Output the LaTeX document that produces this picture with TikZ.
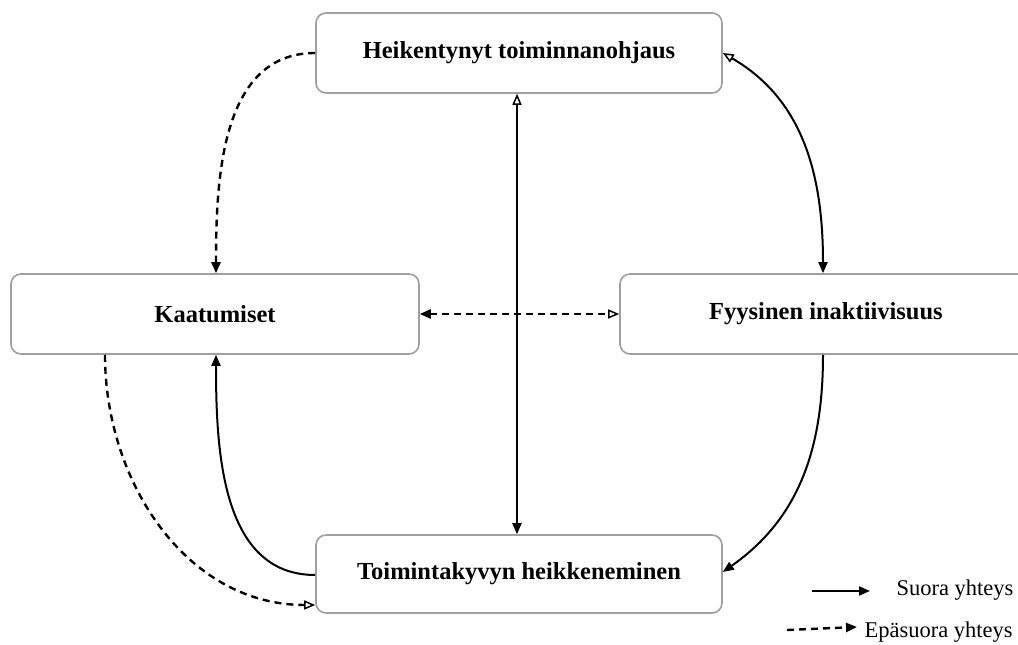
\documentclass[tikz,border=0pt]{standalone}
\usepackage{fontspec}
\setmainfont{Liberation Serif}
\usetikzlibrary{arrows.meta}

\begin{document}
\begin{tikzpicture}[x=1pt, y=1pt,
    box/.style={draw=gray!75, line width=1.6pt, rounded corners=10pt, fill=white,
        minimum height=80pt, font=\fontsize{24.5}{29}\selectfont\bfseries},
    conn/.style={line width=2pt},
    dconn/.style={line width=2.4pt, dash pattern=on 7pt off 5pt},
    full/.tip={Triangle[length=11pt, width=9pt]},
    hollow/.tip={Triangle[open, length=11pt, width=9pt, line width=1.5pt]}]
    \useasboundingbox (0,0) rectangle (1018,645);

    \node[box, minimum width=406pt] (toim) at (519,592) {Heikentynyt toiminnanohjaus};
    \node[box, minimum width=408pt] (kaat) at (215,331) {Kaatumiset};
    \node[box, minimum width=412pt] (fyys) at (826,331) {Fyysinen inaktiivisuus};
    \node[box, minimum width=406pt, minimum height=78pt] (heik) at (519,71) {Toimintakyvyn heikkeneminen};

    \draw[conn, hollow-full] ([xshift=-2pt]toim.south) -- ([xshift=-2pt]heik.north);
    \draw[dconn, -full] (toim.west) to[out=180, in=90] ([xshift=1pt]kaat.north);
    \draw[conn, hollow-full] (toim.east) to[out=-30, in=90] ([xshift=-3pt]fyys.north);
    \draw[conn, -full] ([xshift=-3pt]fyys.south) to[out=-90, in=35] ([yshift=2pt]heik.east);
    \draw[conn, -full] ([yshift=-1pt]heik.west) to[out=180, in=-90] ([xshift=1pt]kaat.south);
    \draw[dconn, -hollow] ([xshift=-110pt]kaat.south) to[out=-90, in=180] ([yshift=-31pt]heik.west);
    \draw[dconn, full-hollow] (kaat.east) -- (fyys.west);

    % legend
    \coordinate (s1) at (812,54);
    \coordinate (s2) at (870,54);
    \coordinate (e1) at (787,15);
    \coordinate (e2) at (857,18);
    \draw[conn, -full] (s1) -- (s2);
    \draw[dconn, -full] (e1) -- (e2);
    \node[anchor=west, font=\fontsize{22.5}{26}\selectfont] (suora) at (893,55) {Suora yhteys};
    \node[anchor=west, font=\fontsize{22.5}{26}\selectfont] (epas) at (861,13) {Epäsuora yhteys};

\end{tikzpicture}
\end{document}
